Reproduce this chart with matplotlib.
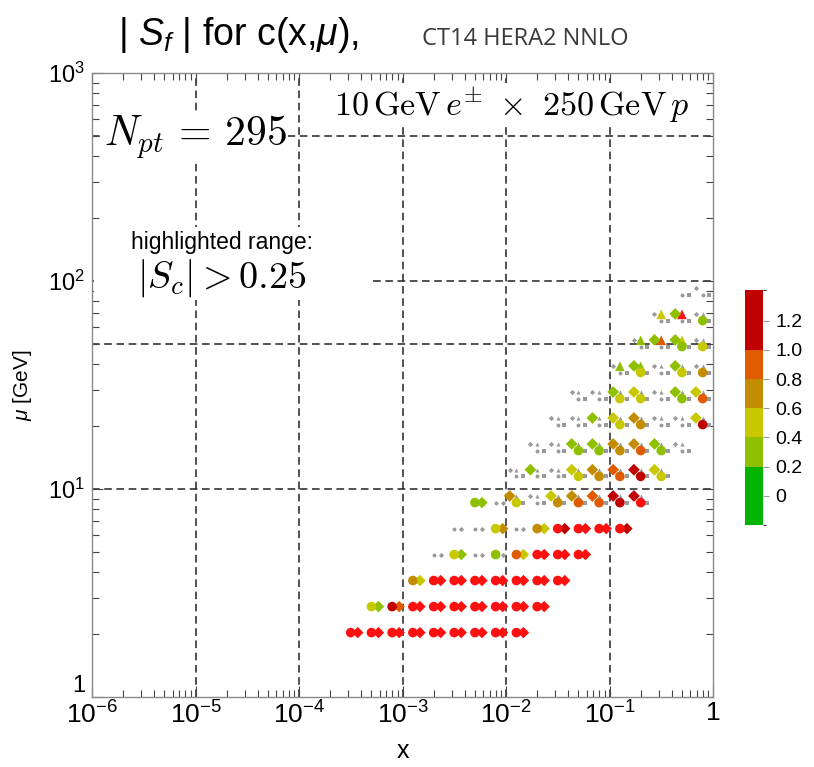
import numpy as np
import matplotlib
matplotlib.use('Agg')
import matplotlib.pyplot as plt
from matplotlib import font_manager
from matplotlib.colors import ListedColormap, BoundaryNorm
from matplotlib.cm import ScalarMappable
from matplotlib.patches import Rectangle

names = {f.name for f in font_manager.fontManager.ttflist}
narrow = 'Liberation Sans Narrow' if 'Liberation Sans Narrow' in names else 'Liberation Sans'
plt.rcParams['font.family'] = [narrow, 'DejaVu Sans']
plt.rcParams['mathtext.fontset'] = 'custom'
plt.rcParams['mathtext.rm'] = narrow
plt.rcParams['mathtext.it'] = narrow + ':italic'
plt.rcParams['mathtext.bf'] = narrow + ':bold'

# x grid (bin centres) and mu rows
x_grid = [3.16e-4, 5.01e-4, 7.94e-4, 1.26e-3, 2.0e-3, 3.16e-3, 5.01e-3, 7.94e-3, 1.26e-2,
          2.0e-2, 3.16e-2, 5.01e-2, 7.94e-2, 0.126, 0.2, 0.316, 0.501, 0.794]
mu_rows = [2.04, 2.72, 3.63, 4.84, 6.45, 8.6, 11.5, 15.3, 20.4, 27.2, 36.3, 48.4, 64.5, 86.0]

# |S_f| values: (row, first x index, values)
circ = [
    (0, 0, [1.6, 1.6, 1.6, 1.6, 1.6, 1.6, 1.6, 1.6, 1.6]),
    (1, 1, [0.5, 1.2, 1.6, 1.6, 1.6, 1.6, 1.6, 1.6, 1.6]),
    (2, 3, [0.7, 1.6, 1.6, 1.6, 1.6, 1.6, 1.6, 1.6]),
    (3, 4, [0.1, 0.5, 0.1, 0.3, 0.9, 1.6, 1.6, 1.6]),
    (4, 5, [0.1, 0.1, 0.5, 0.1, 0.7, 1.6, 1.6, 1.6, 1.6]),
    (5, 6, [0.3, 0.1, 0.5, 0.1, 0.7, 0.9, 0.9, 1.2, 1.6]),
    (6, 8, [0.1, 0.1, 0.1, 0.5, 0.7, 0.9, 1.2, 0.5]),
    (7, 9, [0.1, 0.1, 0.3, 0.3, 0.7, 0.9, 0.3, 0.1]),
    (8, 10, [0.1, 0.1, 0.1, 0.5, 0.7, 0.1, 0.1, 1.2]),
    (9, 11, [0.1, 0.1, 0.5, 0.5, 0.1, 0.3, 0.9]),
    (10, 13, [0.1, 0.5, 0.1, 0.5, 0.7]),
    (11, 14, [0.1, 0.1, 0.3, 0.5]),
    (12, 15, [0.1, 0.1, 0.3]),
    (13, 16, [0.1, 0.1]),
]
diam_right = [
    (0, 0, [1.6, 1.6, 1.6, 1.6, 1.6, 1.6, 1.6, 1.6, 1.6]),
    (1, 1, [0.3, 0.9, 1.6, 1.6, 1.6, 1.6, 1.6, 1.6, 1.6]),
    (2, 3, [0.5, 1.6, 1.6, 1.6, 1.6, 1.6, 1.6, 1.6]),
    (3, 4, [0.1, 0.3, 0.1, 0.1, 0.5, 1.6, 1.6, 1.6]),
    (4, 5, [0.1, 0.1, 0.7, 0.1, 0.5, 1.2, 1.6, 1.6, 1.2]),
    (5, 6, [0.3, 0.1]),
]
diam_left = [
    (5, 8, [0.7, 0.1, 0.5, 0.7, 0.9, 1.2, 1.2]),
    (6, 8, [0.1, 0.3, 0.1, 0.5, 0.7, 0.9, 1.2, 0.5]),
    (7, 9, [0.1, 0.1, 0.3, 0.3, 0.7, 0.7, 0.3, 0.1]),
    (8, 10, [0.1, 0.1, 0.3, 0.5, 0.7, 0.1, 0.1, 0.5]),
    (9, 11, [0.1, 0.1, 0.3, 0.5, 0.1, 0.3, 0.5]),
    (10, 13, [0.1, 0.3, 0.1, 0.3, 0.1]),
    (11, 14, [0.1, 0.3, 0.3, 0.1]),
    (12, 15, [0.1, 0.3, 0.1]),
    (13, 17, [0.1]),
]
tri = [
    (5, 8, [0.1, 0.1, 0.1, 0.1, 0.1, 0.1, 0.1]),
    (6, 8, [0.1, 0.1, 0.1, 0.1, 0.1, 0.1, 0.1, 0.1]),
    (7, 9, [0.1, 0.1, 0.1, 0.1, 0.1, 0.1, 0.1, 0.1]),
    (8, 10, [0.1, 0.1, 0.1, 0.1, 0.1, 0.1, 0.1, 0.1]),
    (9, 11, [0.1, 0.1, 0.1, 0.1, 0.1, 0.1, 0.1]),
    (10, 13, [0.3, 0.3, 0.1, 0.1, 0.1]),
    (11, 14, [0.3, 0.9, 0.5, 0.1]),
    (12, 15, [0.5, 1.6, 0.1]),
]
sq = [
    (5, 8, [0.1, 0.1, 0.1, 0.1, 0.1, 0.1, 0.1]),
    (6, 8, [0.1, 0.1, 0.1, 0.1, 0.1, 0.1, 0.1, 0.1]),
    (7, 9, [0.1, 0.1, 0.1, 0.1, 0.1, 0.1, 0.1, 0.1]),
    (8, 10, [0.1, 0.1, 0.1, 0.1, 0.1, 0.1, 0.1, 0.1]),
    (9, 11, [0.1, 0.1, 0.1, 0.1, 0.1, 0.1, 0.1]),
    (10, 13, [0.1, 0.1, 0.1, 0.1, 0.1]),
    (11, 14, [0.1, 0.1, 0.1, 0.1]),
    (12, 15, [0.1, 0.1, 0.1]),
    (13, 16, [0.1, 0.1]),
]

cb_bounds = [-0.2, 0.2, 0.4, 0.6, 0.8, 1.0, 1.41]
cb_colors = ['#00b400', '#8fc000', '#c8c800', '#c48c00', '#e05a00', '#c00000']
cb_ticks = [0, 0.2, 0.4, 0.6, 0.8, 1.0, 1.2]
cut = 0.25

cmap = ListedColormap(cb_colors).with_extremes(over='#ff1010', under='#00b400')
norm = BoundaryNorm(cb_bounds, cmap.N)

# marker, dlog x, dlog mu, big size, small size
style = [
    (sq, 's', 0.065, 0.0, 32, 7),
    (tri, '^', 0.0, 0.03, 48, 9),
    (diam_right, 'D', 0.068, 0.0, 34, 7),
    (diam_left, 'D', -0.065, 0.032, 36, 7),
    (circ, 'o', 0.0, 0.0, 48, 8),
]

fig = plt.figure(figsize=(8.14, 7.67), dpi=100)
ax = fig.add_axes([92/814, 1-697/767, 621/814, 624/767])
ax.set_xscale('log')
ax.set_yscale('log')
ax.set_xlim(1e-6, 1)
ax.set_ylim(1, 1000)

for gx in [1e-5, 1e-4, 1e-3, 1e-2, 1e-1]:
    ax.axvline(gx, color='#222222', lw=1.1, ls=(0, (5, 3)), zorder=1)
for gy in [10, 50, 100, 500]:
    ax.axhline(gy, color='#222222', lw=1.1, ls=(0, (5, 3)), zorder=1)

for rows, mk, dx, dy, big, small in style:
    xs, ys, vs = [], [], []
    for r, i0, vals in rows:
        for j, v in enumerate(vals):
            xs.append(x_grid[i0 + j] * 10**dx)
            ys.append(mu_rows[r] * 10**dy)
            vs.append(v)
    xs, ys, vs = np.array(xs), np.array(ys), np.array(vs)
    lo = np.abs(vs) < cut
    ax.scatter(xs[lo], ys[lo], s=small, marker=mk, color='#9a9a9a', linewidths=0, zorder=3)
    ax.scatter(xs[~lo], ys[~lo], s=big, marker=mk, c=vs[~lo], cmap=cmap, norm=norm,
               linewidths=0, zorder=4)

ax.set_xticks([1e-6, 1e-5, 1e-4, 1e-3, 1e-2, 1e-1, 1])
ax.set_xticklabels(['$10^{-6}$', '$10^{-5}$', '$10^{-4}$', '$10^{-3}$', '$10^{-2}$', '$10^{-1}$', '1'],
                   fontsize=19)
ax.set_yticks([1, 10, 100, 1000])
ax.set_yticklabels(['1', '$10^1$', '$10^2$', '$10^3$'], fontsize=17)
ax.get_yticklabels()[0].set_verticalalignment('bottom')
ax.yaxis.set_minor_formatter(plt.NullFormatter())
ax.xaxis.set_minor_formatter(plt.NullFormatter())
ax.tick_params(which='both', direction='in', top=True, right=True, color='#444444', width=0.8)
ax.tick_params(which='major', length=8, pad=3)
ax.tick_params(axis='y', which='major', pad=5)
ax.tick_params(which='minor', length=5)
for sp in ax.spines.values():
    sp.set_color('#888888')
    sp.set_linewidth(1.0)

ax.set_xlabel('x', fontsize=18, labelpad=8)
ax.set_ylabel(r'$\mu$ [GeV]', fontsize=15, labelpad=10)

# text annotations
ax.add_patch(Rectangle((0.003, 0.636), 0.445, 0.118, transform=ax.transAxes,
                       fc='white', ec='none', zorder=2))
ax.text(0.166, 0.897, r'$N_{pt}\,=\,295$', transform=ax.transAxes, fontsize=30,
        math_fontfamily='cm', ha='center', va='center', zorder=5,
        bbox=dict(fc='white', ec='none', pad=1))
ax.text(0.676, 0.949, r'$10\,\mathrm{GeV}\,e^{\pm}\ \times\ 250\,\mathrm{GeV}\,p$',
        transform=ax.transAxes, fontsize=24.5, math_fontfamily='cm', ha='center', va='center',
        zorder=5, bbox=dict(fc='white', ec='none', pad=1))
ax.text(0.209, 0.728, 'highlighted range:', transform=ax.transAxes, fontsize=16.5,
        family='Liberation Sans', ha='center', va='center', zorder=5)
ax.text(0.209, 0.671, r'$|S_c| > 0.25$', transform=ax.transAxes, fontsize=27.5,
        math_fontfamily='cm', ha='center', va='center', zorder=5)

fig.text(118/814, 1-45/767, r'| $S_f$ | for c(x,$\mu$),', fontsize=27, va='baseline')
fig.text(422/814, 1-45/767, 'CT14 HERA2 NNLO', fontsize=17, family='Open Sans',
         color='#3a3a3a', va='baseline')

cax = fig.add_axes([745/814, 1-525/767, 18/814, 235/767])
cb = fig.colorbar(ScalarMappable(norm=norm, cmap=cmap), cax=cax, ticks=cb_ticks,
                  spacing='proportional')
cb.outline.set_visible(False)
cb.ax.set_yticklabels(['0', '0.2', '0.4', '0.6', '0.8', '1.0', '1.2'], family='Liberation Sans',
                      fontsize=14)
cb.ax.tick_params(length=4, color='#999999', width=0.8, pad=5)

fig.savefig('out.png', dpi=100)
